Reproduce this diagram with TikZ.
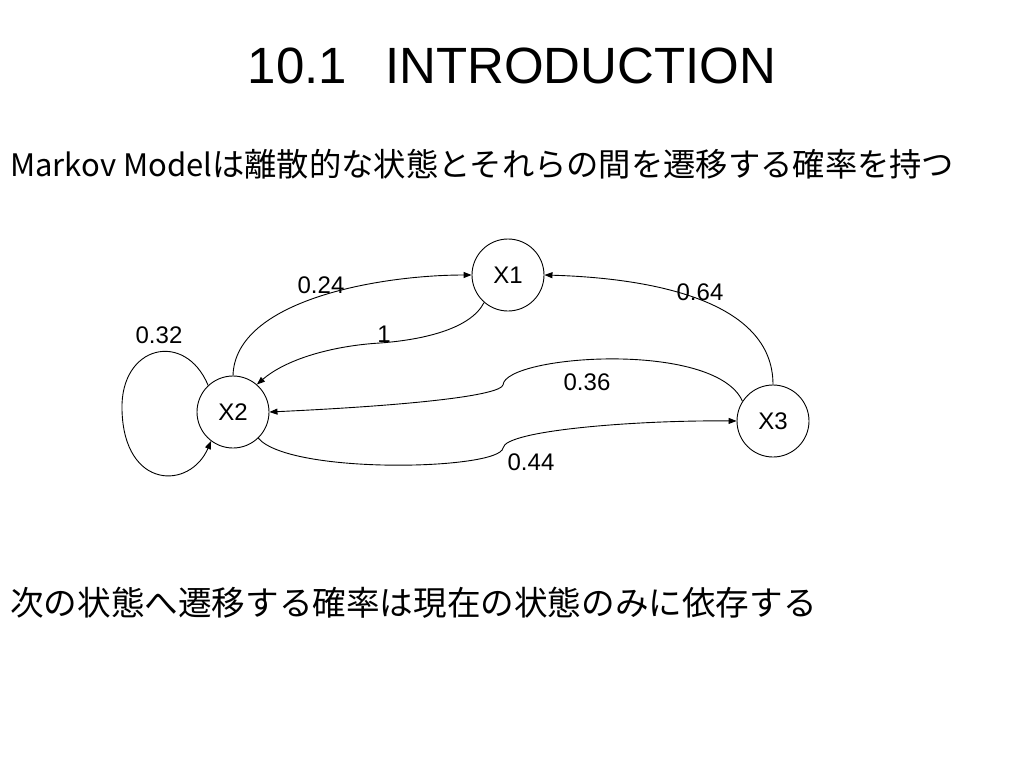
\documentclass[tikz,border=0pt]{standalone}
\usepackage{fontspec}
\setmainfont{Liberation Sans}
\newfontfamily\jpfont{Noto Sans CJK JP}
\usetikzlibrary{arrows.meta}
\begin{document}
\begin{tikzpicture}[x=1pt,y=-1pt,
  state/.style={draw,circle,line width=0.9pt,minimum size=72pt,inner sep=0pt,font=\fontsize{24}{28}\selectfont},
  edge/.style={draw,line width=0.9pt,-{Triangle[length=8pt,width=6pt]}},
  lbl/.style={inner sep=0pt,font=\fontsize{24}{28}\selectfont},
  jp/.style={inner sep=0pt,anchor=west}]
\useasboundingbox[fill=white] (0,0) rectangle (1024,768);
\node[inner sep=0pt,font=\fontsize{51}{60}\selectfont] (title) at (512,66) {10.1\hspace{0.75em}INTRODUCTION};
\node[jp,font=\fontsize{32.3}{38}\jpfont] (line1) at (10,164) {{\fontsize{31}{38}\selectfont Markov Model}は離散的な状態とそれらの間を遷移する確率を持つ};
\node[jp,font=\fontsize{33.6}{38}\jpfont] (line2) at (10,603) {次の状態へ遷移する確率は現在の状態のみに依存する};
\node[state] (X1) at (508,275) {X1};
\node[state] (X2) at (233,412) {X2};
\node[state] (X3) at (773,421) {X3};
\coordinate (k36) at (503,385);
\coordinate (k44) at (503,448);
\coordinate (m1) at (380,343);
\coordinate (l32) at (122,410);
% 0.24
\path[edge] (X2.90) .. controls (235,300) and (380,275) .. (X1.west);
% 1
\path[edge] (X1.229) .. controls (470,330) and (420,340) .. (m1) .. controls (330,346) and (285,360) .. (X2.49);
% 0.64
\path[edge] (X3.90) .. controls (773,300) and (650,278) .. (X1.east);
% 0.36
\path[edge] (X3.147) .. controls (715,340) and (505,355) .. (k36) .. controls (500,395) and (420,405) .. (X2.east);
% 0.44
\path[edge] (X2.-46) .. controls (290,475) and (500,470) .. (k44) .. controls (505,430) and (640,420) .. (X3.west);
% 0.32
\path[edge] (X2.133) .. controls (185,330) and (120,345) .. (l32) .. controls (124,490) and (190,490) .. (X2.233);
\node[lbl] (a24) at (321,285) {0.24};
\node[lbl] (a1) at (384,334) {1};
\node[lbl] (a32) at (159,335) {0.32};
\node[lbl] (a64) at (700,292) {0.64};
\node[lbl] (a36) at (587,382) {0.36};
\node[lbl] (a44) at (531,462) {0.44};
\end{tikzpicture}
\end{document}
